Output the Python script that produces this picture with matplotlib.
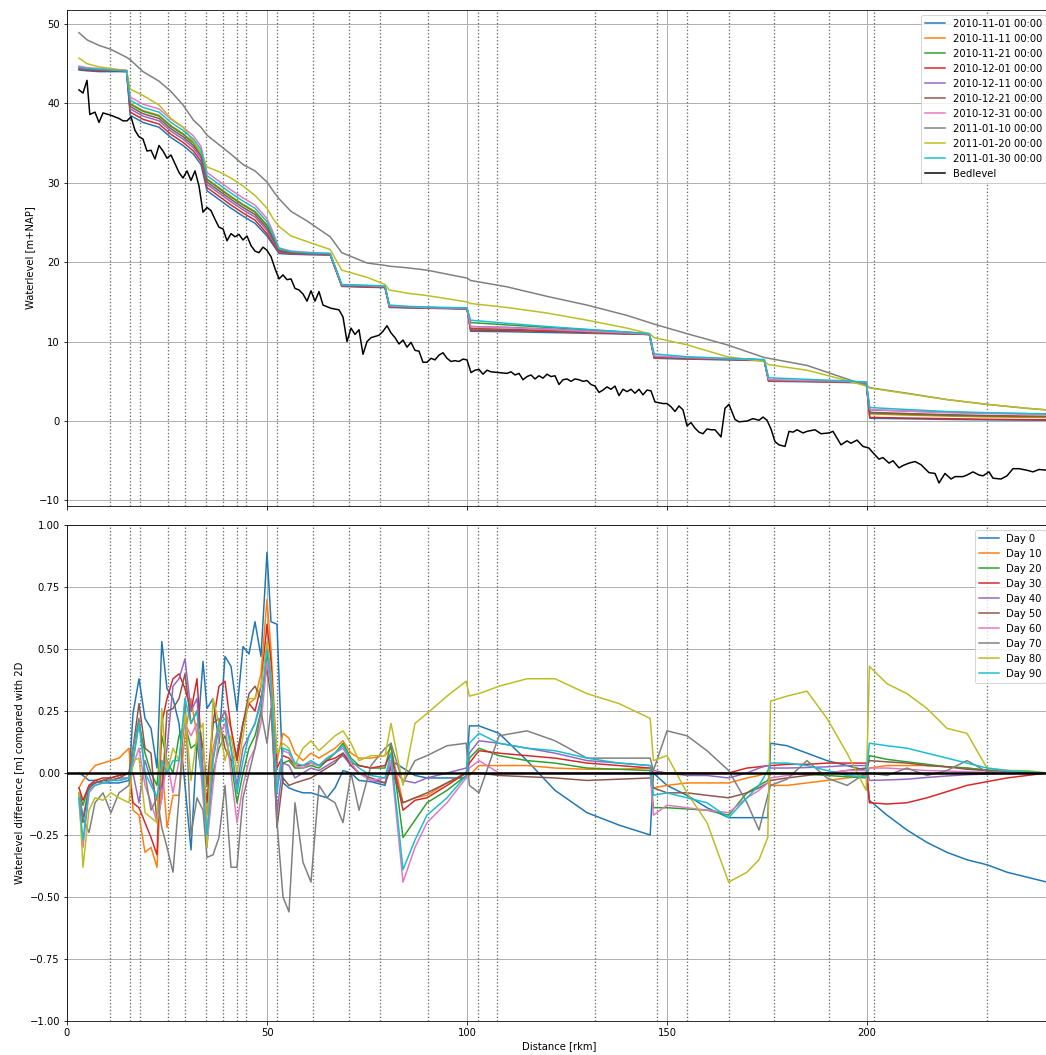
import matplotlib
matplotlib.use('Agg')
import matplotlib.pyplot as plt

# ---------------- data ----------------
wl_labels = ['2010-11-01 00:00', '2010-11-11 00:00', '2010-11-21 00:00', '2010-12-01 00:00',
             '2010-12-11 00:00', '2010-12-21 00:00', '2010-12-31 00:00', '2011-01-10 00:00',
             '2011-01-20 00:00', '2011-01-30 00:00']

xw = [3, 5, 8, 11, 14.9, 15.8, 19, 23, 26, 29, 31.6, 33.5, 35, 38, 41, 44, 47, 50, 51.5, 53,
      56, 60, 65.8, 68.7, 75, 79.5, 80.6, 85, 90, 95, 100, 100.9, 110, 120, 130, 140, 145.6, 146.8,
      155, 165, 174.3, 175.4, 185, 195, 199.8, 200.7, 210, 220, 230, 240, 245]

wl_20101101 = [44.2, 44.1, 44.0, 44.0, 44.0, 38.5, 37.6, 37.0, 35.7, 34.7, 33.6, 32.3, 29.0, 27.9, 26.8,
               25.8, 24.9, 23.3, 22.2, 21.1, 21.0, 20.95, 20.9, 16.95, 16.85, 16.8, 14.3, 14.25, 14.2,
               14.15, 14.1, 11.3, 11.25, 11.15, 11.05, 10.95, 10.9, 7.9, 7.8, 7.7, 7.6, 5.0, 4.95, 4.85,
               4.8, 0.35, 0.28, 0.2, 0.15, 0.12, 0.1]
wl_20101111 = [44.6, 44.4, 44.3, 44.2, 44.1, 40.0, 39.1, 38.5, 37.2, 36.2, 35.1, 33.8, 30.5, 29.4, 28.3,
               27.3, 26.4, 24.7, 23.2, 21.55, 21.25, 21.15, 21.0, 17.1, 17.0, 16.9, 14.45, 14.35, 14.3,
               14.25, 14.2, 11.6, 11.5, 11.35, 11.15, 11.0, 10.9, 8.0, 7.9, 7.8, 7.7, 5.1, 5.0, 4.9,
               4.85, 0.9, 0.75, 0.62, 0.52, 0.46, 0.45]
wl_20101121 = [44.5, 44.4, 44.3, 44.2, 44.1, 39.9, 39.0, 38.4, 37.1, 36.1, 35.0, 33.7, 30.4, 29.3, 28.2,
               27.2, 26.3, 24.6, 23.1, 21.5, 21.2, 21.1, 21.0, 17.1, 17.0, 16.9, 14.45, 14.35, 14.3,
               14.25, 14.2, 12.4, 12.1, 11.8, 11.5, 11.2, 11.0, 8.05, 7.9, 7.8, 7.7, 5.15, 5.05, 4.95,
               4.85, 1.0, 0.85, 0.72, 0.62, 0.56, 0.55]
wl_20101201 = [44.3, 44.2, 44.1, 44.1, 44.0, 38.9, 38.0, 37.4, 36.1, 35.1, 34.0, 32.7, 29.4, 28.3, 27.2,
               26.2, 25.3, 23.6, 22.4, 21.2, 21.05, 21.0, 20.95, 17.0, 16.9, 16.85, 14.35, 14.3, 14.25,
               14.2, 14.15, 11.45, 11.4, 11.3, 11.15, 11.0, 10.9, 7.95, 7.85, 7.75, 7.65, 5.05, 5.0, 4.9,
               4.85, 0.45, 0.38, 0.3, 0.22, 0.17, 0.15]
wl_20101211 = [44.4, 44.3, 44.2, 44.2, 44.1, 39.3, 38.4, 37.8, 36.5, 35.5, 34.4, 33.1, 29.8, 28.7, 27.6,
               26.6, 25.7, 24.0, 22.7, 21.3, 21.1, 21.05, 21.0, 17.05, 16.95, 16.9, 14.4, 14.3, 14.25,
               14.2, 14.15, 11.9, 11.8, 11.6, 11.35, 11.1, 10.95, 8.0, 7.9, 7.8, 7.7, 5.1, 5.05, 4.95,
               4.85, 1.4, 1.25, 1.1, 1.0, 0.92, 0.9]
wl_20101221 = [44.4, 44.3, 44.2, 44.2, 44.1, 39.6, 38.7, 38.1, 36.8, 35.8, 34.7, 33.4, 30.1, 29.0, 27.9,
               26.9, 26.0, 24.3, 22.9, 21.4, 21.15, 21.1, 21.0, 17.05, 16.95, 16.9, 14.4, 14.3, 14.25,
               14.2, 14.15, 11.65, 11.55, 11.4, 11.2, 11.0, 10.9, 8.0, 7.9, 7.8, 7.7, 5.1, 5.05, 4.95,
               4.85, 1.1, 0.95, 0.8, 0.7, 0.62, 0.6]
wl_20101231 = [44.7, 44.5, 44.4, 44.3, 44.2, 40.8, 39.9, 39.3, 38.0, 37.0, 35.9, 34.6, 31.3, 30.2, 29.1,
               28.1, 27.2, 25.5, 23.8, 21.8, 21.4, 21.25, 21.1, 17.15, 17.05, 16.95, 14.5, 14.4, 14.3,
               14.25, 14.2, 11.9, 11.75, 11.55, 11.3, 11.1, 10.95, 8.2, 8.0, 7.85, 7.7, 5.2, 5.1, 5.0,
               4.9, 1.45, 1.25, 1.05, 0.95, 0.88, 0.85]
wl_20110110 = [48.9, 48.0, 47.3, 46.8, 45.8, 45.5, 44.0, 42.8, 41.5, 39.8, 37.9, 37.0, 36.0, 34.8, 33.6,
               32.3, 31.5, 30.1, 29.0, 28.0, 26.4, 25.2, 23.2, 21.2, 19.9, 19.6, 19.5, 19.3, 19.0,
               18.5, 18.0, 17.7, 16.9, 15.7, 14.6, 13.3, 12.4, 12.2, 11.0, 9.6, 8.0, 7.9, 7.0, 5.3,
               4.5, 4.2, 3.5, 2.7, 2.1, 1.6, 1.4]
wl_20110120 = [45.7, 45.0, 44.6, 44.4, 44.1, 41.8, 41.0, 39.8, 38.1, 37.0, 35.2, 33.8, 32.0, 31.4, 30.6,
               29.6, 28.4, 26.8, 25.5, 24.5, 23.3, 22.6, 21.6, 19.0, 18.1, 17.2, 16.5, 16.1, 15.8,
               15.4, 15.0, 14.8, 14.3, 13.6, 12.7, 11.7, 11.0, 10.5, 9.6, 8.1, 7.5, 7.1, 6.4, 5.1,
               4.4, 4.15, 3.45, 2.7, 2.1, 1.6, 1.4]
wl_20110130 = [44.5, 44.4, 44.3, 44.2, 44.1, 40.4, 39.5, 38.9, 37.6, 36.6, 35.5, 34.2, 30.9, 29.8, 28.7,
               27.7, 26.8, 25.1, 23.5, 21.7, 21.35, 21.2, 21.1, 17.2, 17.1, 17.0, 14.6, 14.45, 14.35,
               14.3, 14.25, 12.7, 12.3, 11.9, 11.55, 11.2, 11.0, 8.45, 8.1, 7.9, 7.75, 5.45, 5.25, 5.05,
               4.9, 1.7, 1.45, 1.2, 1.05, 0.95, 0.9]

bed_x = [3, 4, 5, 5.7, 7, 8, 9, 11, 13, 14, 15, 16, 17, 18, 19, 20, 21, 22, 23, 24, 25, 26, 27, 28,
         29, 30, 31, 32, 33, 34, 35, 36, 37, 38, 39, 40, 41, 42, 43, 44, 45, 46, 47, 48, 49, 50, 51,
         52, 53, 54, 55, 56, 57, 58, 59, 60, 61, 62, 63, 64, 66, 68, 69, 70, 71, 72, 73, 74, 75, 76,
         78, 79, 80, 81, 82, 83, 84, 85, 86, 87, 88, 89, 90, 91, 92, 93, 94, 95, 96, 97, 98, 99, 100,
         101, 102, 103, 104, 105, 106, 108, 110, 111, 112, 113, 114, 115, 116, 117, 118, 119, 120,
         121, 122, 123, 124, 125, 126, 127, 128, 129, 130, 131, 132, 133, 134, 135, 136, 137, 138,
         139, 140, 141, 142, 143, 144, 145, 146, 147, 148, 149, 150, 151, 152, 153, 154, 155, 156,
         157, 158, 159, 160, 161, 162, 163.5, 164.5, 165.5, 167, 168, 170, 171.5, 173, 174, 175, 176,
         177, 178, 179.5, 180.5, 181.5, 182.5, 184, 185, 187, 188.5, 190.5, 191.5, 193.5, 195, 196,
         197.5, 199, 200.5, 201.5, 203, 204, 205.5, 206.5, 208, 209, 210.5, 212, 213.5, 215.5, 217,
         218, 219.5, 221, 222, 224, 225, 226.5, 228, 229, 230.5, 231.5, 233.5, 235, 236.5, 238, 240,
         241.5, 243, 245]
bed_level = [41.7, 41.3, 42.9, 38.6, 38.9, 37.6, 38.8, 38.5, 38.1, 37.8, 37.8, 38.3, 36.6, 35.8, 35.5,
             34.0, 34.1, 33.0, 34.7, 34.0, 33.1, 33.5, 32.4, 31.3, 30.6, 31.5, 30.3, 31.5, 29.6, 26.3,
             26.9, 26.5, 25.4, 24.4, 24.2, 22.7, 23.6, 23.2, 23.5, 22.8, 23.3, 22.1, 21.4, 21.2, 21.9,
             21.5, 20.7, 19.2, 17.9, 18.4, 17.8, 17.9, 16.7, 16.5, 16.0, 15.1, 16.4, 15.1, 16.3, 14.6,
             14.2, 14.0, 13.1, 10.0, 11.7, 10.9, 11.5, 8.4, 10.0, 10.5, 10.8, 11.3, 12.0, 11.1, 10.5,
             9.7, 10.2, 9.3, 9.9, 8.9, 8.8, 7.4, 7.4, 7.9, 7.7, 8.3, 8.6, 7.9, 7.5, 7.6, 7.5, 7.8, 7.7,
             6.1, 6.4, 6.5, 5.9, 6.4, 6.2, 6.1, 6.0, 6.2, 5.8, 6.0, 5.2, 5.6, 5.8, 5.3, 5.7, 5.4, 5.9,
             5.6, 5.7, 4.6, 5.2, 5.3, 5.0, 5.3, 5.2, 5.0, 5.1, 4.6, 4.4, 3.6, 3.9, 4.3, 4.0, 4.4, 3.2,
             4.0, 3.7, 4.0, 3.5, 4.0, 3.3, 3.9, 3.8, 2.4, 2.3, 2.2, 2.2, 1.8, 1.2, 1.9, 1.4, -0.6, -0.2,
             -0.9, -1.4, -1.6, -1.0, -1.1, -1.1, -2.0, 1.6, 2.1, 0.2, -0.1, 0.0, 0.3, 0.1, 0.5, 0.1,
             -1.0, -2.6, -3.0, -3.2, -1.3, -1.4, -1.1, -1.5, -1.3, -1.1, -1.6, -1.5, -1.3, -3.0, -2.5,
             -2.8, -2.4, -3.2, -3.4, -4.0, -4.8, -4.6, -5.3, -5.0, -5.9, -5.6, -5.3, -5.1, -5.5, -6.5,
             -6.6, -7.8, -6.6, -7.3, -7.0, -7.0, -6.8, -6.4, -6.8, -6.9, -6.4, -7.2, -7.3, -6.9, -6.0,
             -6.0, -6.2, -6.4, -6.1, -6.2]

structures_km = [10.8, 15.8, 18.3, 25.3, 29.5, 34.8, 39.0, 42.5, 44.8, 52.6, 61.4, 70.4, 78.2, 90.2,
                 102.7, 107.4, 132.0, 147.5, 155.0, 165.4, 176.8, 190.4, 201.8, 230.1]

diff_labels = ['Day 0', 'Day 10', 'Day 20', 'Day 30', 'Day 40', 'Day 50', 'Day 60', 'Day 70',
               'Day 80', 'Day 90']

xd = [3, 4, 5.5, 7, 9, 11, 13, 15.5, 16.5, 18,
      19.5, 21, 22.5, 23.7, 25, 26.5, 28, 29.5, 31, 32.5,
      34, 35, 36.5, 38, 39.5, 41, 42.5, 44, 45.5, 47,
      48.5, 50, 51, 52.5, 54, 55.5, 57, 59, 61, 63,
      65, 67, 69, 71, 73, 76, 79.5, 81, 84, 87,
      90, 95, 99.8, 100.6, 103, 108, 115, 122, 130, 138,
      145.8, 146.6, 150, 155, 160, 165.4, 170, 173, 175.2, 175.9,
      180, 185, 190, 195, 199.8, 200.6, 205, 210, 215, 220,
      225, 230, 235, 240, 245]

diff_day0 = [0.0, -0.01, -0.03, -0.03, -0.04, -0.04, -0.04, -0.03, 0.24, 0.38,
             0.22, 0.18, 0.02, 0.53, 0.34, 0.30, 0.20, -0.05, -0.31, 0.12,
             0.45, 0.26, 0.30, 0.12, 0.47, 0.43, 0.25, 0.51, 0.48, 0.61,
             0.47, 0.89, 0.61, 0.60, -0.04, -0.06, -0.07, -0.08, -0.08, -0.09,
             -0.10, -0.06, 0.01, 0.00, -0.03, -0.035, -0.05, 0.05, 0.02, -0.01,
             -0.02, -0.02, -0.02, 0.19, 0.19, 0.16, 0.05, -0.07, -0.16, -0.21,
             -0.25, 0.00, -0.05, -0.09, -0.14, -0.18, -0.18, -0.18, -0.18, 0.12,
             0.11, 0.08, 0.05, 0.03, 0.01, -0.11, -0.17, -0.23, -0.28, -0.32,
             -0.35, -0.37, -0.40, -0.42, -0.44]
diff_day10 = [-0.06, -0.03, 0.00, 0.03, 0.04, 0.05, 0.06, 0.10, -0.15, -0.17,
              -0.32, -0.30, -0.38, 0.05, -0.22, -0.09, -0.09, 0.15, 0.30, 0.15,
              0.00, -0.17, 0.10, 0.20, 0.25, 0.18, 0.05, 0.20, 0.28, 0.30,
              0.40, 0.70, 0.50, 0.05, 0.16, 0.14, 0.08, 0.05, 0.08, 0.06,
              0.08, 0.10, 0.13, 0.08, 0.06, 0.06, 0.07, 0.10, -0.12, -0.10,
              -0.09, -0.04, 0.00, -0.01, 0.03, 0.03, 0.03, 0.02, 0.015, 0.015,
              0.02, -0.06, -0.05, -0.04, -0.04, -0.04, -0.02, -0.01, 0.00, -0.05,
              -0.05, -0.04, -0.03, -0.02, -0.01, 0.02, 0.03, 0.03, 0.03, 0.025,
              0.02, 0.01, 0.005, 0.003, 0.0]
diff_day20 = [-0.08, -0.13, -0.05, -0.04, -0.03, -0.02, -0.01, 0.00, 0.05, 0.20,
              0.08, 0.00, -0.05, 0.15, 0.05, 0.00, 0.15, 0.20, 0.10, 0.12,
              -0.05, -0.25, 0.00, 0.10, 0.15, 0.05, -0.12, 0.00, 0.10, 0.15,
              0.25, 0.48, 0.40, -0.05, 0.04, 0.05, 0.02, 0.02, 0.03, 0.02,
              0.05, 0.08, 0.12, 0.06, 0.03, 0.02, 0.02, 0.12, -0.26, -0.19,
              -0.12, -0.07, -0.01, 0.06, 0.10, 0.07, 0.05, 0.04, 0.02, 0.015,
              0.01, -0.14, -0.14, -0.145, -0.15, -0.17, -0.08, -0.05, -0.03, 0.00,
              0.00, -0.005, -0.01, -0.015, -0.02, 0.07, 0.055, 0.045, 0.035, 0.025,
              0.02, 0.012, 0.006, 0.003, 0.0]
diff_day30 = [-0.06, -0.11, -0.05, -0.03, -0.02, -0.02, -0.01, 0.00, -0.12, -0.14,
              -0.20, -0.26, -0.33, 0.20, 0.30, 0.38, 0.40, 0.34, 0.25, 0.38,
              0.00, -0.12, 0.20, 0.35, 0.37, 0.18, 0.05, 0.20, 0.28, 0.25,
              0.35, 0.60, 0.45, 0.02, 0.07, 0.06, 0.03, 0.03, 0.04, 0.03,
              0.05, 0.06, 0.08, 0.04, 0.03, 0.02, 0.03, 0.08, -0.15, -0.11,
              -0.10, -0.05, 0.00, 0.04, 0.09, 0.08, 0.07, 0.06, 0.04, 0.03,
              0.02, 0.00, 0.00, 0.00, 0.00, 0.00, 0.02, 0.025, 0.03, 0.03,
              0.035, 0.035, 0.04, 0.04, 0.04, -0.12, -0.125, -0.12, -0.10, -0.075,
              -0.05, -0.035, -0.02, -0.01, 0.0]
diff_day40 = [-0.08, -0.18, -0.06, -0.04, -0.03, -0.03, -0.02, -0.02, 0.00, -0.12,
              0.05, -0.03, -0.10, -0.05, 0.10, 0.35, 0.38, 0.46, 0.25, 0.30,
              0.00, -0.30, 0.05, 0.20, 0.25, 0.10, -0.05, 0.10, 0.15, 0.20,
              0.30, 0.45, 0.38, -0.16, 0.04, 0.03, -0.02, 0.00, 0.02, 0.01,
              0.03, 0.05, 0.07, 0.03, 0.00, -0.03, -0.04, 0.03, -0.03, -0.04,
              -0.02, 0.00, 0.02, 0.08, 0.13, 0.12, 0.10, 0.08, 0.05, 0.04,
              0.03, 0.01, 0.00, -0.01, -0.01, -0.02, 0.00, 0.02, 0.03, 0.02,
              0.02, 0.022, 0.025, 0.03, 0.03, -0.03, -0.028, -0.025, -0.018, -0.012,
              -0.007, -0.004, -0.002, -0.001, 0.0]
diff_day50 = [-0.10, -0.20, -0.06, -0.04, -0.03, -0.03, -0.02, 0.00, 0.10, 0.28,
              0.10, 0.08, -0.20, -0.10, 0.25, 0.26, 0.30, 0.40, 0.20, 0.25,
              0.10, -0.05, 0.20, 0.22, 0.10, 0.05, 0.08, 0.20, 0.32, 0.35,
              0.30, 0.42, 0.30, -0.22, -0.02, -0.05, -0.04, -0.03, -0.02, 0.00,
              0.02, 0.04, 0.08, 0.03, 0.00, -0.02, -0.04, 0.02, -0.12, -0.10,
              -0.08, -0.04, 0.00, 0.00, 0.00, -0.01, -0.015, -0.02, -0.03, -0.025,
              -0.02, -0.06, -0.08, -0.08, -0.09, -0.10, -0.08, -0.06, -0.04, -0.03,
              -0.02, -0.01, 0.00, 0.01, 0.02, 0.05, 0.045, 0.04, 0.03, 0.025,
              0.015, 0.01, 0.005, 0.002, 0.0]
diff_day60 = [-0.12, -0.30, -0.08, -0.05, -0.04, -0.03, -0.03, -0.02, 0.03, 0.10,
              -0.05, -0.12, -0.20, -0.10, 0.05, -0.08, 0.05, 0.20, 0.15, 0.20,
              -0.10, -0.28, -0.05, 0.15, 0.20, 0.00, -0.20, -0.05, 0.05, 0.10,
              0.20, 0.45, 0.35, -0.05, 0.09, 0.08, 0.03, 0.02, 0.04, 0.03,
              0.06, 0.08, 0.10, 0.04, 0.00, -0.03, -0.02, 0.05, -0.44, -0.30,
              -0.20, -0.12, -0.02, 0.02, 0.05, 0.00, 0.00, 0.00, 0.00, 0.00,
              0.00, -0.17, -0.13, -0.14, -0.15, -0.16, -0.10, -0.07, -0.04, -0.02,
              -0.01, 0.00, 0.00, 0.01, 0.01, 0.02, 0.02, 0.015, 0.01, 0.008,
              0.005, 0.003, 0.002, 0.001, 0.0]
diff_day70 = [-0.08, -0.18, -0.24, -0.12, -0.08, -0.16, -0.08, -0.05, 0.10, 0.22,
              0.00, -0.15, -0.10, -0.22, -0.30, -0.40, -0.10, 0.30, -0.25, -0.10,
              -0.15, -0.34, -0.33, -0.26, -0.05, -0.38, -0.38, -0.10, 0.00, 0.10,
              0.25, 0.12, 0.26, -0.20, -0.50, -0.56, -0.12, -0.36, -0.44, -0.05,
              -0.10, -0.12, -0.20, 0.00, -0.15, 0.03, 0.10, 0.12, -0.04, 0.05,
              0.07, 0.11, 0.12, -0.05, -0.08, 0.15, 0.17, 0.13, 0.06, 0.06,
              0.06, 0.01, 0.17, 0.15, 0.09, 0.01, -0.12, -0.23, -0.09, -0.05,
              -0.025, 0.05, -0.02, -0.05, 0.00, 0.00, -0.01, 0.02, -0.01, 0.01,
              0.05, 0.005, 0.01, 0.00, 0.00]
diff_day80 = [-0.08, -0.38, -0.15, -0.10, -0.11, -0.08, -0.10, -0.12, 0.05, 0.06,
              -0.16, -0.18, -0.20, 0.26, 0.00, 0.10, 0.05, 0.24, -0.03, 0.15,
              0.20, -0.30, 0.30, 0.20, 0.05, 0.15, 0.00, 0.15, 0.30, 0.30,
              0.35, 0.53, 0.40, 0.08, 0.12, 0.10, 0.03, 0.10, 0.13, 0.09,
              0.12, 0.15, 0.17, 0.12, 0.05, 0.07, 0.07, 0.20, -0.05, 0.20,
              0.24, 0.31, 0.37, 0.31, 0.32, 0.35, 0.38, 0.38, 0.32, 0.28,
              0.22, 0.05, 0.07, -0.08, -0.20, -0.44, -0.40, -0.35, -0.26, 0.29,
              0.31, 0.33, 0.22, 0.08, -0.07, 0.43, 0.36, 0.32, 0.26, 0.18,
              0.16, 0.02, 0.01, 0.01, 0.0]
diff_day90 = [-0.10, -0.27, -0.07, -0.05, -0.04, -0.03, -0.03, -0.02, 0.05, 0.20,
              0.00, -0.05, -0.10, 0.05, 0.00, 0.05, 0.05, 0.30, 0.20, 0.25,
              -0.05, -0.25, 0.05, 0.20, 0.22, 0.10, -0.08, 0.05, 0.15, 0.20,
              0.28, 0.50, 0.38, -0.08, 0.10, 0.09, 0.04, 0.03, 0.05, 0.03,
              0.06, 0.08, 0.11, 0.05, 0.02, -0.01, -0.02, 0.08, -0.39, -0.27,
              -0.17, -0.10, -0.01, 0.12, 0.16, 0.12, 0.10, 0.09, 0.06, 0.04,
              0.03, -0.09, -0.08, -0.10, -0.12, -0.18, -0.10, -0.05, 0.01, 0.04,
              0.04, 0.03, 0.01, -0.01, -0.015, 0.12, 0.11, 0.10, 0.08, 0.06,
              0.04, 0.02, 0.01, 0.005, 0.0]

# ---------------- plot ----------------
wl_series = [wl_20101101, wl_20101111, wl_20101121, wl_20101201, wl_20101211, wl_20101221,
             wl_20101231, wl_20110110, wl_20110120, wl_20110130]
diff_series = [diff_day0, diff_day10, diff_day20, diff_day30, diff_day40, diff_day50,
               diff_day60, diff_day70, diff_day80, diff_day90]

DPI = 72
W, H = 1046.0, 1055.0
fig = plt.figure(figsize=(W / DPI, H / DPI), dpi=DPI)
ax1 = fig.add_axes([67 / W, (H - 506) / H, 984 / W, 496 / H])
ax2 = fig.add_axes([67 / W, (H - 1021) / H, 984 / W, 496 / H], sharex=ax1)

for i, (lab, ys) in enumerate(zip(wl_labels, wl_series)):
    ax1.plot(xw, ys, color='C%d' % i, lw=1.5, label=lab)
ax1.plot(bed_x, bed_level, color='k', lw=1.5, label='Bedlevel')

for i, (lab, ys) in enumerate(zip(diff_labels, diff_series)):
    ax2.plot(xd, ys, color='C%d' % i, lw=1.5, label=lab)
ax2.axhline(0, color='k', lw=2.5, zorder=5)

for ax in (ax1, ax2):
    for xs in structures_km:
        ax.axvline(xs, color='#666666', ls=':', lw=1.3, zorder=1)
    ax.grid(True, color='#b0b0b0', lw=1.0)
    ax.set_axisbelow(True)

ax1.set_xlim(0, 246)
ax1.set_ylim(-10.7, 51.76)
ax1.set_yticks([-10, 0, 10, 20, 30, 40, 50])
ax1.set_ylabel('Waterlevel [m+NAP]')
ax1.tick_params(labelbottom=False)
ax1.legend(loc='upper right')

ax2.set_ylim(-1, 1)
ax2.set_yticks([-1.0, -0.75, -0.5, -0.25, 0.0, 0.25, 0.5, 0.75, 1.0])
ax2.set_xticks([0, 50, 100, 150, 200])
ax2.set_ylabel('Waterlevel difference [m] compared with 2D')
ax2.set_xlabel('Distance [rkm]', labelpad=3)
ax2.legend(loc='upper right')

fig.savefig('out.png', dpi=DPI)
